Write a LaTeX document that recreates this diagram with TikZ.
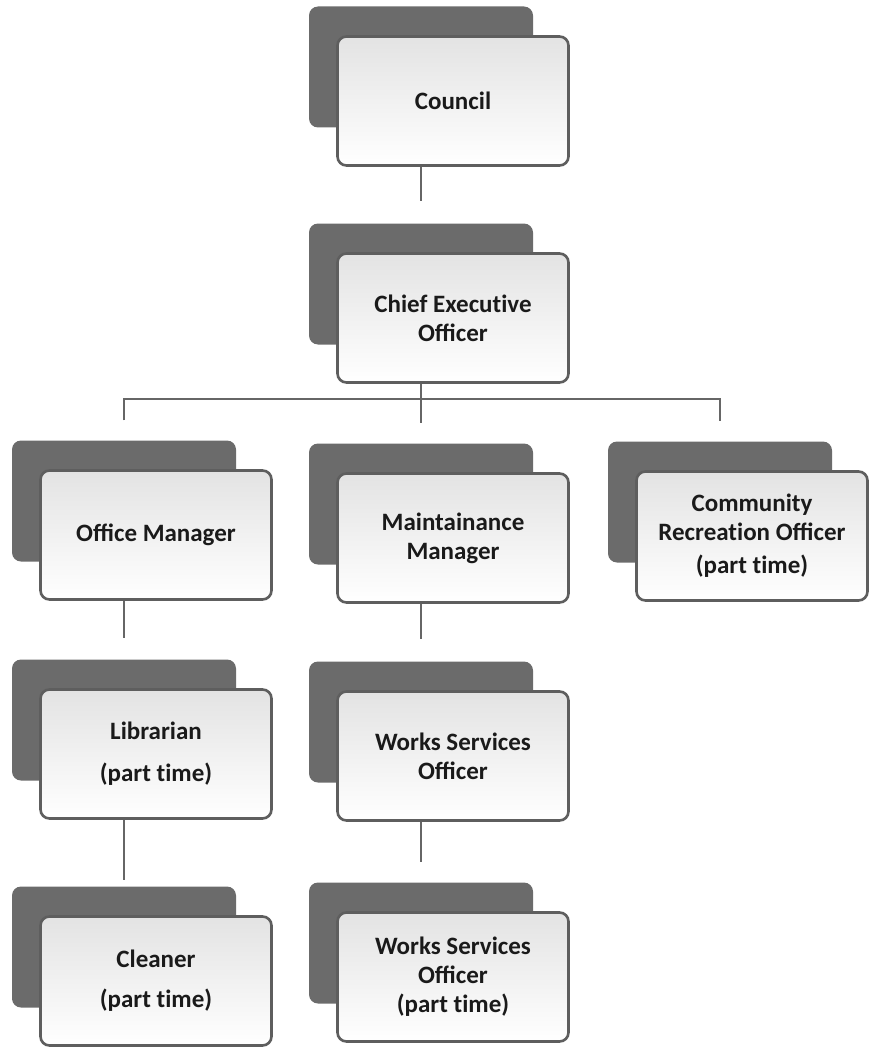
\documentclass[tikz,border=0pt]{standalone}
\usepackage{fontspec}
\setmainfont{Carlito}
\usetikzlibrary{calc}
\definecolor{backgray}{HTML}{6B6B6B}
\definecolor{edgegray}{HTML}{5E5E5E}
\definecolor{linegray}{HTML}{666666}
\definecolor{txt}{HTML}{1A1A1A}
\newcommand\orgunit[4]{%
  \node[backbox] (#1-b) at ($(#2,-#3)+(-32,34)$) {};
  \node[frontbox] (#1) at (#2,-#3) {#4};
}
\newcommand\tI{t\kern0pt i}
\begin{document}
\begin{tikzpicture}[x=1pt,y=1pt,
  backbox/.style={rectangle, rounded corners=9pt, fill=backgray, draw=none,
    minimum width=224pt, minimum height=121pt, inner sep=0pt},
  frontbox/.style={rectangle, rounded corners=9pt, draw=edgegray, line width=2.6pt,
    top color=black!11, bottom color=white,
    minimum width=231pt, minimum height=129pt, align=center, inner sep=0pt,
    font=\fontsize{25}{29}\selectfont\bfseries, text=txt},
  link/.style={draw=linegray, line width=2.6pt}]
\useasboundingbox (0,0) rectangle (871,-1054);

\orgunit{council}{453}{101}{Council}
\orgunit{ceo}{453}{318}{Chief Execu\tI ve\\Officer}
\orgunit{office}{156}{535}{Office Manager}
\orgunit{maint}{453}{538}{Maintainance\\Manager}
\orgunit{comm}{752}{536}{Community\\Recrea\tI on Officer\\[4pt](part \tI me)}
\orgunit{lib}{156}{754}{Librarian\\[13pt](part \tI me)}
\orgunit{works}{453}{756}{Works Services\\Officer}
\orgunit{clean}{156}{981}{Cleaner\\[11pt](part \tI me)}
\orgunit{workspt}{453}{977}{Works Services\\Officer\\(part \tI me)}

% connectors
\coordinate (ceo-in) at ($(ceo-b.north)+(0,22)$);
\draw[link] (council.south -| ceo-in) -- (ceo-in);

\coordinate (bus) at ($(ceo.south -| ceo-b.north)+(0,-15)$);
\coordinate (om-in) at ($(office-b.north)+(0,20)$);
\coordinate (mm-in) at ($(maint-b.north)+(0,20)$);
\coordinate (cr-in) at ($(comm-b.north)+(0,20)$);
\draw[link] (ceo.south -| bus) -- (bus) -- (mm-in);
\draw[link] (om-in) -- (om-in |- bus) -- (cr-in |- bus) -- (cr-in);

\coordinate (lib-in) at ($(lib-b.north)+(0,21)$);
\draw[link] (office.south -| lib-in) -- (lib-in);
\coordinate (clean-in) at ($(clean-b.north)+(0,6)$);
\draw[link] (lib.south -| clean-in) -- (clean-in);

\coordinate (works-in) at ($(works-b.north)+(0,22)$);
\draw[link] (maint.south -| works-in) -- (works-in);
\coordinate (workspt-in) at ($(workspt-b.north)+(0,20)$);
\draw[link] (works.south -| workspt-in) -- (workspt-in);
\end{tikzpicture}
\end{document}
